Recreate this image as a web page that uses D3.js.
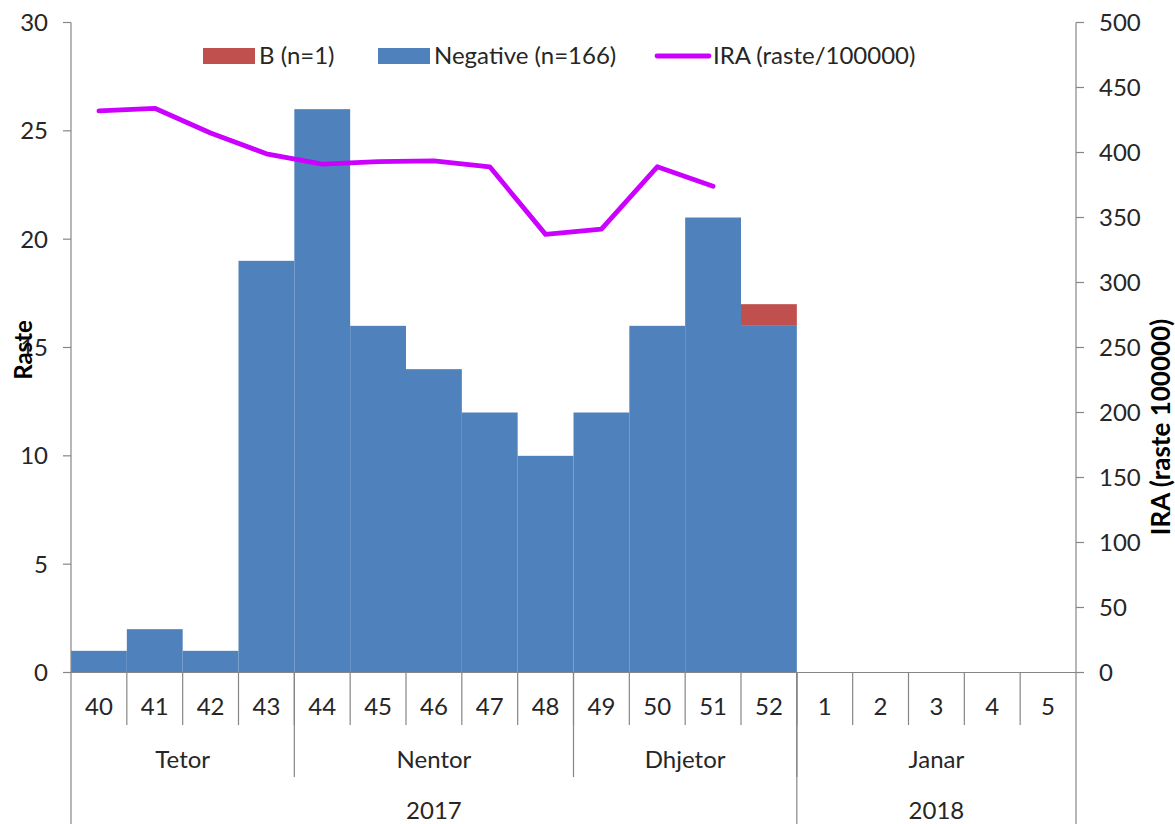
<!DOCTYPE html>
<html><head><meta charset="utf-8">
<script src="https://cdn.jsdelivr.net/npm/d3@7"></script>
<style>body{margin:0;background:#fff}svg{display:block}text{font-family:Lato,"Open Sans",sans-serif;fill:#262626}</style>
</head><body>
<svg id="c" width="1175" height="824"></svg>
<script>
const weeks = ["40","41","42","43","44","45","46","47","48","49","50","51","52","1","2","3","4","5"];
const negative = [1,2,1,19,26,16,14,12,10,12,16,21,16,0,0,0,0,0];
const bCases = [0,0,0,0,0,0,0,0,0,0,0,0,1,0,0,0,0,0];
const ira = [432,434,415,399,391,393,393.5,389,337,341,389,374,null,null,null,null,null,null];
const monthNames = ["Tetor","Nentor","Dhjetor","Janar"];
const monthFirst = ["40","44","49","1"];
const monthLast = ["43","48","52","5"];
const yearNames = ["2017","2018"];
const yearFirst = ["40","1"];
const yearLast = ["52","5"];
const leftTicks = [0,5,10,15,20,25,30];
const rightTicks = [0,50,100,150,200,250,300,350,400,450,500];
const legendLabels = ["B (n=1)","Negative (n=166)","IRA (raste/100000)"];

const C = {blue:"#4F81BD", red:"#C0504D", line:"#CC00FF", axis:"#868686"};
const L = 71, R = 1076, T = 22.5, B = 672.5;
const FS = 24;
const svg = d3.select("#c");
const x = d3.scaleBand().domain(weeks).range([L, R]).padding(0);
const yL = d3.scaleLinear().domain([0,30]).range([B, T]);
const yR = d3.scaleLinear().domain([0,500]).range([B, T]);

// bars
const g = svg.append("g");
g.selectAll("rect.neg").data(weeks).join("rect")
  .attr("x", d => x(d)).attr("width", x.bandwidth())
  .attr("y", (d,i) => yL(negative[i])).attr("height", (d,i) => yL(0) - yL(negative[i]))
  .attr("fill", C.blue);
g.selectAll("rect.b").data(weeks).join("rect")
  .attr("x", d => x(d)).attr("width", x.bandwidth())
  .attr("y", (d,i) => yL(negative[i] + bCases[i])).attr("height", (d,i) => yL(negative[i]) - yL(negative[i] + bCases[i]))
  .attr("fill", C.red);

// line
const line = d3.line().defined(d => d.v != null).x(d => x(d.w) + x.bandwidth()/2).y(d => yR(d.v));
svg.append("path").datum(weeks.map((w,i) => ({w, v: ira[i]})))
  .attr("d", line).attr("fill","none").attr("stroke", C.line).attr("stroke-width", 4.8)
  .attr("stroke-linejoin","round").attr("stroke-linecap","round");

// axes
const ax = svg.append("g").attr("stroke", C.axis).attr("stroke-width", 1.2);
ax.append("line").attr("x1", L).attr("x2", L).attr("y1", T).attr("y2", 824);
ax.append("line").attr("x1", R).attr("x2", R).attr("y1", T).attr("y2", 824);
ax.append("line").attr("x1", L).attr("x2", R).attr("y1", B).attr("y2", B);
leftTicks.forEach(t => ax.append("line").attr("x1", L-8).attr("x2", L).attr("y1", yL(t)).attr("y2", yL(t)));
rightTicks.forEach(t => ax.append("line").attr("x1", R).attr("x2", R+8).attr("y1", yR(t)).attr("y2", yR(t)));
svg.selectAll("text.lt").data(leftTicks).join("text")
  .attr("x", 48).attr("y", d => yL(d)).attr("dy","0.35em").attr("text-anchor","end")
  .attr("font-size", FS).text(d => d);
svg.selectAll("text.rt").data(rightTicks).join("text")
  .attr("x", 1099).attr("y", d => yR(d)).attr("dy","0.35em").attr("text-anchor","start")
  .attr("font-size", FS).text(d => d);

// category axis separators
weeks.forEach((w,i) => {
  if (i > 0) ax.append("line").attr("x1", x(w)).attr("x2", x(w)).attr("y1", B).attr("y2", 725);
});
monthFirst.forEach((m,i) => {
  if (i > 0) ax.append("line").attr("x1", x(m)).attr("x2", x(m)).attr("y1", B).attr("y2", 777);
});
yearFirst.forEach((m,i) => {
  if (i > 0) ax.append("line").attr("x1", x(m)).attr("x2", x(m)).attr("y1", B).attr("y2", 824);
});
svg.selectAll("text.wk").data(weeks).join("text")
  .attr("x", d => x(d) + x.bandwidth()/2).attr("y", 707).attr("dy","0.35em")
  .attr("text-anchor","middle").attr("font-size", FS).text(d => d);
svg.selectAll("text.mo").data(monthNames).join("text")
  .attr("x", (d,i) => (x(monthFirst[i]) + x(monthLast[i]) + x.bandwidth())/2).attr("y", 760).attr("dy","0.35em")
  .attr("text-anchor","middle").attr("font-size", FS).text(d => d);
svg.selectAll("text.yr").data(yearNames).join("text")
  .attr("x", (d,i) => (x(yearFirst[i]) + x(yearLast[i]) + x.bandwidth())/2).attr("y", 811).attr("dy","0.35em")
  .attr("text-anchor","middle").attr("font-size", FS).text(d => d);

// axis titles
svg.append("text").attr("transform","translate(32,350) rotate(-90)").attr("text-anchor","middle")
  .attr("font-size", 24).attr("font-weight","bold").style("fill","#000").text("Raste");
svg.append("text").attr("transform","translate(1170,427) rotate(-90)").attr("text-anchor","middle")
  .attr("font-size", 26).attr("font-weight","bold").style("fill","#000").text("IRA (raste 100000)");

// legend
const lg = svg.append("g");
const lx = [203, 378, 657];
lg.append("rect").attr("x", lx[0]).attr("y", 48).attr("width", 52).attr("height", 16).attr("fill", C.red);
lg.append("rect").attr("x", lx[1]).attr("y", 48).attr("width", 52).attr("height", 16).attr("fill", C.blue);
lg.append("line").attr("x1", lx[2]).attr("x2", lx[2]+52).attr("y1", 56).attr("y2", 56)
  .attr("stroke", C.line).attr("stroke-width", 4.8).attr("stroke-linecap","round");
legendLabels.forEach((t,i) => lg.append("text").attr("x", lx[i]+56).attr("y", 56).attr("dy","0.35em")
  .attr("font-size", FS).text(t));
</script>
</body></html>
